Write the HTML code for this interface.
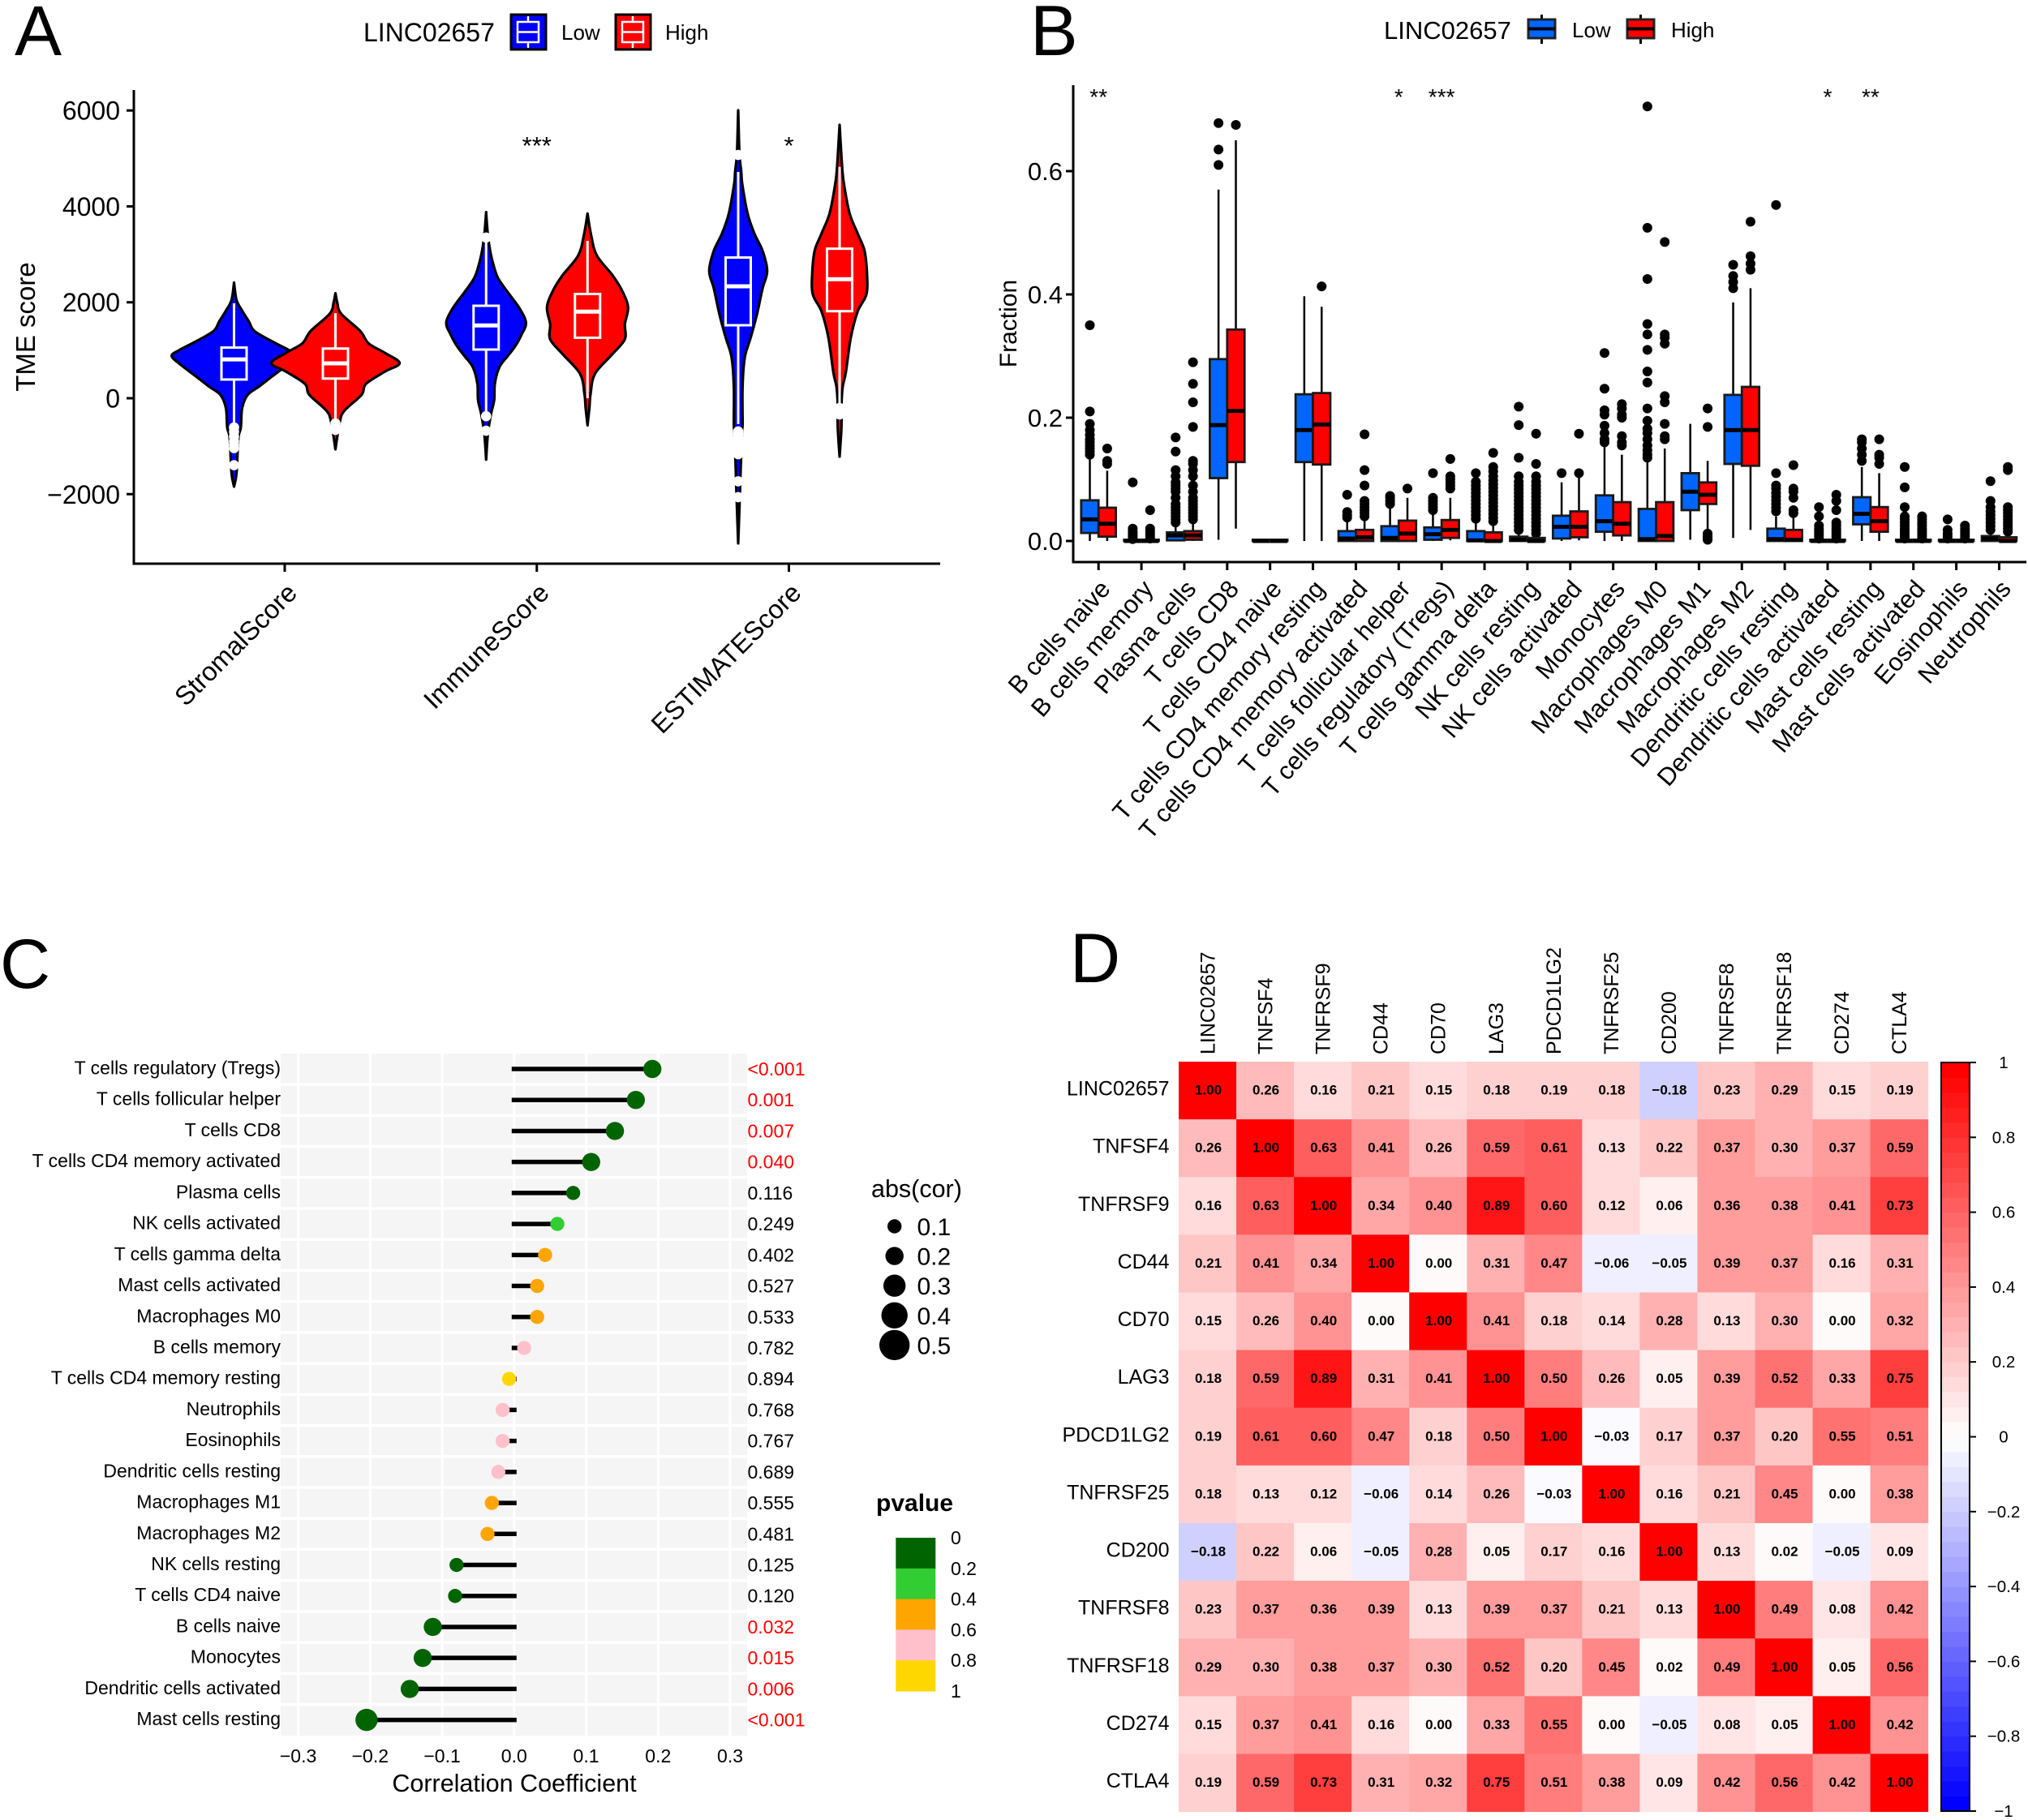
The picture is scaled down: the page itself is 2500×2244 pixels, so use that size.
<!DOCTYPE html>
<html lang="en">
<head>
<meta charset="utf-8">
<title>LINC02657 immune landscape figure</title>
<style>
html,body{margin:0;padding:0;background:#fff}
svg{display:block}
text{font-family:"Liberation Sans",Arial,sans-serif;fill:#000}
</style>
</head>
<body>
<svg id="fig" xmlns="http://www.w3.org/2000/svg" width="2500" height="2244" viewBox="0 0 2500 2244">
<rect width="2500" height="2244" fill="#fff"/>
<text x="18" y="68" font-size="87">A</text>
<text x="1270" y="68" font-size="88">B</text>
<text x="0" y="1218" font-size="86">C</text>
<text x="1319" y="1211" font-size="86">D</text>

<g>
<text x="448" y="51" font-size="32">LINC02657</text>
<rect x="630" y="18" width="43" height="43" fill="#0000ff" stroke="#000" stroke-width="3"/>
<rect x="638" y="27" width="26" height="25" fill="none" stroke="#fff" stroke-width="2.5"/>
<path d="M651 20V27M651 52V59M638 39.500H664" stroke="#fff" stroke-width="2.500" fill="none"/>
<text x="692" y="49" font-size="26">Low</text>
<rect x="759" y="18" width="43" height="43" fill="#ff0000" stroke="#000" stroke-width="3"/>
<rect x="767" y="27" width="26" height="25" fill="none" stroke="#fff" stroke-width="2.5"/>
<path d="M780 20V27M780 52V59M767 39.500H793" stroke="#fff" stroke-width="2.500" fill="none"/>
<text x="820" y="49" font-size="26">High</text>
</g>

<g>
<text x="1706" y="48" font-size="31">LINC02657</text>
<path d="M1900.500 18V54" stroke="#000" stroke-width="3"/>
<rect x="1884" y="24" width="33" height="23" fill="#0066ff" stroke="#222" stroke-width="3"/>
<path d="M1884 35.500H1917" stroke="#000" stroke-width="4"/>
<text x="1938" y="46" font-size="26">Low</text>
<path d="M2022.500 18V54" stroke="#000" stroke-width="3"/>
<rect x="2006" y="24" width="33" height="23" fill="#ff0000" stroke="#222" stroke-width="3"/>
<path d="M2006 35.500H2039" stroke="#000" stroke-width="4"/>
<text x="2060" y="46" font-size="26">High</text>
</g>

<g id="panelA"></g>
<g id="panelB"></g>
<g id="panelC"></g>
<g id="panelD"></g>
</svg>

<script>
/* ---------- Panel A data ---------- */
const aCategories = ['StromalScore','ImmuneScore','ESTIMATEScore'];
const aTickValues = [-2000,0,2000,4000,6000];
const aStars = ['','***','*'];
const stromalLowScores  = [2410,2047,1826,1596,1400,1172,1003,880,693,473,242,73,-206,-609,-830,-1560,-1843];
const stromalLowDensity = [0,.04,.13,.24,.33,.63,.88,1,.85,.63,.4,.22,.13,.11,.07,.04,0];
const stromalHighScores  = [2188,1990,1765,1398,1145,947,733,553,299,73,-265,-490,-800,-1065];
const stromalHighDensity = [0,.03,.09,.4,.53,.79,1.03,.79,.49,.42,.14,.07,.03,0];
const immuneLowScores  = [3880,3385,2975,2565,2385,2155,1845,1570,1330,1090,870,640,300,-35,-320,-720,-1280];
const immuneLowDensity = [0,.03,.08,.17,.25,.38,.55,.64,.57,.47,.34,.21,.14,.13,.08,.03,0];
const immuneHighScores  = [3850,3385,2975,2565,2255,1900,1540,1230,920,510,100,-200,-565];
const immuneHighDensity = [0,.06,.15,.4,.55,.65,.6,.6,.4,.12,.05,.03,0];
const estimateLowScores  = [6003,5100,4718,4465,3856,3433,3078,2653,2288,1742,1265,845,237,-524,-732,-1460,-1900,-3027];
const estimateLowDensity = [0,.02,.05,.065,.15,.26,.39,.465,.39,.3,.2,.105,.07,.07,.06,.04,.03,0];
const estimateHighScores  = [5700,4825,4465,3856,3433,3078,2588,2165,1810,1265,541,237,-128,-600,-1218];
const estimateHighDensity = [0,.04,.07,.16,.29,.4,.44,.43,.29,.18,.1,.05,.03,.03,0];
const aQ1 = [390,410,1015,1261,1522,1815];
const aMedian = [810,728,1518,1805,2334,2482];
const aQ3 = [1056,1036,1928,2174,2934,3118];
const aWhiskerHigh = [1979,1774,3280,3280,4718,4825];
const aWhiskerLow = [-510,-460,-310,0,-540,-110];
const stromalLowOutliers = [-609,-700,-800,-900,-970,-1040,-1396];
const stromalHighOutliers = [-525,-590,-660];
const immuneLowOutliers = [3350,-375,-677];
const immuneHighOutliers = [];
const estimateLowOutliers = [5073,-693,-750,-829,-913,-998,-1083,-1167,-1733,-2063];
const estimateHighOutliers = [-203,-270,-338];

/* ---------- Panel B data ---------- */
const bCategories = ['B cells naive','B cells memory','Plasma cells','T cells CD8','T cells CD4 naive','T cells CD4 memory resting','T cells CD4 memory activated','T cells follicular helper','T cells regulatory (Tregs)','T cells gamma delta','NK cells resting','NK cells activated','Monocytes','Macrophages M0','Macrophages M1','Macrophages M2','Dendritic cells resting','Dendritic cells activated','Mast cells resting','Mast cells activated','Eosinophils','Neutrophils'];
const bTickValues = [0,0.2,0.4,0.6];
const bStars = ['**','','','','','','','*','***','','','','','','','','','*','**','','',''];
const bLowQ1 = [.013,0,.001,.102,0,.128,0,0,.002,0,0,.004,.015,0,.05,.125,0,0,.027,0,0,0];
const bLowMedian = [.035,0,.009,.188,0,.18,.004,.005,.011,.001,.002,.023,.032,.003,.08,.18,.003,0,.044,0,0,.004];
const bLowQ3 = [.066,.002,.014,.295,.002,.238,.016,.024,.022,.016,.007,.041,.074,.052,.11,.237,.02,.002,.071,.002,.002,.008];
const bLowHigh = [.135,.002,.028,.57,.002,.397,.035,.055,.05,.035,.015,.095,.155,.13,.19,.387,.04,.002,.12,.002,.002,.015];
const bLowLow = [0,0,0,.002,0,0,0,0,0,0,0,0,0,0,.002,.005,0,0,0,0,0,0];
const bHighQ1 = [.007,0,.002,.128,0,.124,0,0,.005,0,0,.006,.009,0,.06,.122,0,0,.015,0,0,0];
const bHighMedian = [.028,0,.009,.211,0,.189,.006,.012,.018,0,0,.023,.028,.008,.075,.18,.002,0,.032,0,0,0];
const bHighQ3 = [.054,.002,.016,.343,.002,.24,.018,.033,.034,.014,.005,.048,.063,.063,.095,.25,.018,.002,.055,.002,.002,.006];
const bHighHigh = [.114,.002,.032,.65,.002,.38,.04,.07,.07,.03,.009,.11,.14,.15,.13,.41,.04,.002,.11,.002,.002,.013];
const bHighLow = [0,0,0,.02,0,0,0,0,.001,0,0,.001,0,0,.015,.018,0,0,0,0,0,0];
const bLowOutliers = [
 [.14,.145,.15,.155,.16,.165,.172,.18,.19,.21,.35],
 [.003,.006,.009,.012,.015,.02,.095],
 [.03,.035,.04,.045,.05,.055,.06,.07,.08,.085,.09,.095,.105,.115,.145,.168],
 [.61,.635,.678],[],[],
 [.038,.042,.047,.075],
 [.06,.065,.07,.073],
 [.05,.055,.06,.065,.07,.11],
 [.036,.042,.048,.054,.06,.066,.072,.078,.084,.09,.096,.11],
 [.018,.024,.03,.036,.042,.048,.054,.06,.066,.072,.078,.084,.09,.096,.105,.135,.188,.218],
 [.11],
 [.16,.165,.175,.187,.205,.212,.247,.305],
 [.135,.14,.147,.155,.165,.175,.182,.195,.215,.257,.275,.31,.335,.352,.425,.508,.705],
 [],
 [.41,.42,.43,.448],
 [.048,.054,.06,.066,.072,.078,.085,.09,.11,.545],
 [.004,.008,.012,.016,.02,.025,.04,.055],
 [.13,.14,.15,.16,.165],
 [.004,.008,.012,.016,.02,.025,.03,.035,.04,.055,.087,.12],
 [.004,.008,.012,.018,.035],
 [.018,.024,.03,.036,.042,.048,.055,.065,.097]
];
const bHighOutliers = [
 [.125,.13,.15],
 [.004,.008,.012,.016,.02,.05],
 [.035,.04,.045,.05,.055,.06,.065,.07,.08,.09,.105,.115,.125,.13,.185,.225,.255,.29],
 [.675],[],[.413],
 [.04,.045,.05,.055,.06,.065,.09,.115,.173],
 [.085],
 [.085,.09,.095,.1,.105,.133],
 [.032,.038,.044,.05,.056,.062,.068,.074,.08,.086,.092,.098,.105,.113,.12,.143],
 [.012,.018,.024,.03,.036,.042,.048,.054,.06,.066,.072,.078,.084,.09,.096,.105,.125,.174],
 [.11,.174],
 [.155,.16,.17,.2,.205,.215,.222],
 [.165,.17,.19,.225,.235,.32,.33,.335,.485],
 [.002,.005,.008,.012,.185,.215],
 [.44,.45,.462,.518],
 [.045,.05,.07,.08,.085,.123],
 [.004,.008,.012,.016,.02,.025,.03,.05,.065,.075],
 [.125,.135,.14,.165],
 [.004,.008,.012,.016,.02,.025,.03,.035,.04],
 [.004,.008,.012,.016,.02,.025],
 [.015,.02,.025,.03,.035,.04,.045,.05,.055,.115,.12]
];

/* ---------- Panel C data ---------- */
const cCells = ['T cells regulatory (Tregs)','T cells follicular helper','T cells CD8','T cells CD4 memory activated','Plasma cells','NK cells activated','T cells gamma delta','Mast cells activated','Macrophages M0','B cells memory','T cells CD4 memory resting','Neutrophils','Eosinophils','Dendritic cells resting','Macrophages M1','Macrophages M2','NK cells resting','T cells CD4 naive','B cells naive','Monocytes','Dendritic cells activated','Mast cells resting'];
const cCorrelation = [.192,.169,.14,.107,.082,.06,.043,.032,.032,.014,-.007,-.016,-.016,-.022,-.031,-.037,-.08,-.082,-.113,-.127,-.145,-.205];
const cPValues = ['<0.001','0.001','0.007','0.040','0.116','0.249','0.402','0.527','0.533','0.782','0.894','0.768','0.767','0.689','0.555','0.481','0.125','0.120','0.032','0.015','0.006','<0.001'];
const cTickValues = [-0.3,-0.2,-0.1,0,0.1,0.2,0.3];
const cSizeLegend = [0.1,0.2,0.3,0.4,0.5];
const cPBreaks = [0,0.2,0.4,0.6,0.8,1];
const cPColors = ['#006400','#32cd32','#ffa500','#ffc0cb','#ffd700'];

/* ---------- Panel D data ---------- */
const dGenes = ['LINC02657','TNFSF4','TNFRSF9','CD44','CD70','LAG3','PDCD1LG2','TNFRSF25','CD200','TNFRSF8','TNFRSF18','CD274','CTLA4'];
const dRowLinc = [1,.26,.16,.21,.15,.18,.19,.18,-.18,.23,.29,.15,.19];
const dRowTnfsf4 = [.26,1,.63,.41,.26,.59,.61,.13,.22,.37,.30,.37,.59];
const dRowTnfrsf9 = [.16,.63,1,.34,.40,.89,.60,.12,.06,.36,.38,.41,.73];
const dRowCd44 = [.21,.41,.34,1,0,.31,.47,-.06,-.05,.39,.37,.16,.31];
const dRowCd70 = [.15,.26,.40,0,1,.41,.18,.14,.28,.13,.30,0,.32];
const dRowLag3 = [.18,.59,.89,.31,.41,1,.50,.26,.05,.39,.52,.33,.75];
const dRowPdcd = [.19,.61,.60,.47,.18,.50,1,-.03,.17,.37,.20,.55,.51];
const dRowTnfrsf25 = [.18,.13,.12,-.06,.14,.26,-.03,1,.16,.21,.45,0,.38];
const dRowCd200 = [-.18,.22,.06,-.05,.28,.05,.17,.16,1,.13,.02,-.05,.09];
const dRowTnfrsf8 = [.23,.37,.36,.39,.13,.39,.37,.21,.13,1,.49,.08,.42];
const dRowTnfrsf18 = [.29,.30,.38,.37,.30,.52,.20,.45,.02,.49,1,.05,.56];
const dRowCd274 = [.15,.37,.41,.16,0,.33,.55,0,-.05,.08,.05,1,.42];
const dRowCtla4 = [.19,.59,.73,.31,.32,.75,.51,.38,.09,.42,.56,.42,1];
const dMatrix = [dRowLinc,dRowTnfsf4,dRowTnfrsf9,dRowCd44,dRowCd70,dRowLag3,dRowPdcd,dRowTnfrsf25,dRowCd200,dRowTnfrsf8,dRowTnfrsf18,dRowCd274,dRowCtla4];
const dLegendTicks = [-1,-0.8,-0.6,-0.4,-0.2,0,0.2,0.4,0.6,0.8,1];

/* ---------- helpers ---------- */
const NS = 'http://www.w3.org/2000/svg';
function make(parent, tag, props, txt){
  const n = document.createElementNS(NS, tag);
  for (const k in props) n.setAttribute(k, props[k]);
  if (txt !== undefined) n.textContent = txt;
  parent.appendChild(n);
  return n;
}
function minus(s){ return String(s).replace('-', '\u2212'); }
function smooth(pts){
  let d = 'M' + pts[0][0].toFixed(1) + ' ' + pts[0][1].toFixed(1);
  for (let i = 0; i < pts.length - 1; i++){
    const p0 = pts[Math.max(i-1,0)], p1 = pts[i], p2 = pts[i+1], p3 = pts[Math.min(i+2,pts.length-1)];
    const c1x = p1[0] + (p2[0]-p0[0])/6, c1y = p1[1] + (p2[1]-p0[1])/6;
    const c2x = p2[0] - (p3[0]-p1[0])/6, c2y = p2[1] - (p3[1]-p1[1])/6;
    d += 'C' + c1x.toFixed(1) + ' ' + c1y.toFixed(1) + ' ' + c2x.toFixed(1) + ' ' + c2y.toFixed(1) + ' ' + p2[0].toFixed(1) + ' ' + p2[1].toFixed(1);
  }
  return d;
}

/* ---------- Panel A ---------- */
(function(){
  const g = document.getElementById('panelA');
  const yA = v => 491 - v * 0.05913;
  const catX = i => 351 + i * 310.75;
  const wA = d => d * 76.8;
  const scoreSets = [stromalLowScores,stromalHighScores,immuneLowScores,immuneHighScores,estimateLowScores,estimateHighScores];
  const densSets = [stromalLowDensity,stromalHighDensity,immuneLowDensity,immuneHighDensity,estimateLowDensity,estimateHighDensity];
  const outSets = [stromalLowOutliers,stromalHighOutliers,immuneLowOutliers,immuneHighOutliers,estimateLowOutliers,estimateHighOutliers];
  const groupNames = ['low','high'];

  scoreSets.forEach((scores,k) => {
    const cat = Math.floor(k/2), grp = k%2;
    const cx = catX(cat) + (grp ? 62.5 : -62.5);
    const vg = make(g,'g',{});
    
    
    const right = scores.map((v,i) => [cx + wA(densSets[k][i]), yA(v)]);
    const left = scores.map((v,i) => [cx - wA(densSets[k][i]), yA(v)]).reverse();
    const d = smooth(right) + smooth(left).replace(/^M[^C]*/, 'L' + left[0][0].toFixed(1) + ' ' + left[0][1].toFixed(1)) + 'Z';
    const v = make(vg,'path',{d:d,fill:grp?'#ff0000':'#0000ff',stroke:'#000','stroke-width':3.200,'stroke-linejoin':'round'});
    
    
    const w = make(vg,'path',{d:'M'+cx+' '+yA(aWhiskerHigh[k])+'V'+yA(aQ3[k])+'M'+cx+' '+yA(aQ1[k])+'V'+yA(aWhiskerLow[k]),stroke:'#fff','stroke-width':3,fill:'none'});
    
    
    const b = make(vg,'rect',{x:cx-15.500,y:yA(aQ3[k]),width:31,height:yA(aQ1[k])-yA(aQ3[k]),fill:'none',stroke:'#fff','stroke-width':3});
    
    
    const m = make(vg,'line',{x1:cx-15.500,x2:cx+15.500,y1:yA(aMedian[k]),y2:yA(aMedian[k]),stroke:'#fff','stroke-width':5});
    
    
    outSets[k].forEach(val => {
      const o = make(vg,'circle',{cx:cx,cy:yA(val),r:6.300,fill:'#fff'});
      
      
    });
  });

  const ax = make(g,'path',{d:'M165 111V695H1159',fill:'none',stroke:'#000','stroke-width':3});
  
  
  aTickValues.forEach(v => {
    const t = make(g,'line',{x1:156,x2:165,y1:yA(v),y2:yA(v),stroke:'#000','stroke-width':3});
    
    
    const l = make(g,'text',{x:148,y:yA(v)+11.500,'font-size':32,'text-anchor':'end'},minus(v));
    
    
  });
  aCategories.forEach((c,i) => {
    const x = catX(i);
    const t = make(g,'line',{x1:x,x2:x,y1:695,y2:705,stroke:'#000','stroke-width':3});
    
    
    const l = make(g,'text',{x:x+17,y:733,'font-size':32.500,'text-anchor':'end',transform:'rotate(-45 '+(x+17)+' 733)'},c);
    
    
    if (aStars[i]){
      const s = make(g,'text',{x:x,y:190,'font-size':31,'text-anchor':'middle'},aStars[i]);
      
      
    }
  });
  const yt = make(g,'text',{x:43,y:403,'font-size':33,'text-anchor':'middle',transform:'rotate(-90 43 403)'},'TME score');
  
  
})();

/* ---------- Panel B ---------- */
(function(){
  const g = document.getElementById('panelB');
  const yB = v => 667 - v * 760;
  const catX = i => 1354.2 + i * 52.87;
  const colors = ['#0066ff','#ff0000'];
  const q1s = [bLowQ1,bHighQ1], meds = [bLowMedian,bHighMedian], q3s = [bLowQ3,bHighQ3], his = [bLowHigh,bHighHigh], los = [bLowLow,bHighLow], outs = [bLowOutliers,bHighOutliers];
  bCategories.forEach((c,i) => {
    [0,1].forEach(grp => {
      const cx = catX(i) + (grp ? 10.700 : -10.700);
      const bg = make(g,'g',{});
      
      
      outs[grp][i].forEach(val => {
        const o = make(bg,'circle',{cx:cx,cy:yB(val),r:6,fill:'#000'});
        
        
      });
      const w = make(bg,'line',{x1:cx,x2:cx,y1:yB(his[grp][i]),y2:yB(los[grp][i]),stroke:'#000','stroke-width':2.500});
      
      
      const b = make(bg,'rect',{x:cx-10.700,y:yB(q3s[grp][i]),width:21.400,height:Math.max(yB(q1s[grp][i])-yB(q3s[grp][i]),1),fill:colors[grp],stroke:'#1a1a1a','stroke-width':2.800});
      
      
      const m = make(bg,'line',{x1:cx-10.700,x2:cx+10.700,y1:yB(meds[grp][i]),y2:yB(meds[grp][i]),stroke:'#000','stroke-width':5});
      
      
    });
  });
  const ax = make(g,'path',{d:'M1323 105V693H2498',fill:'none',stroke:'#000','stroke-width':3});
  
  
  bTickValues.forEach(v => {
    const t = make(g,'line',{x1:1314,x2:1323,y1:yB(v),y2:yB(v),stroke:'#000','stroke-width':3});
    
    
    const l = make(g,'text',{x:1310,y:yB(v)+11,'font-size':31,'text-anchor':'end'},v.toFixed(1));
    
    
  });
  bCategories.forEach((c,i) => {
    const x = catX(i);
    const t = make(g,'line',{x1:x,x2:x,y1:693,y2:703,stroke:'#000','stroke-width':3});
    
    
    const l = make(g,'text',{x:x+16,y:727,'font-size':30.800,'text-anchor':'end',transform:'rotate(-49 '+(x+16)+' 727)'},c);
    
    
    if (bStars[i]){
      const s = make(g,'text',{x:x,y:129,'font-size':28,'text-anchor':'middle'},bStars[i]);
      
      
    }
  });
  const yt = make(g,'text',{x:1253,y:399,'font-size':30,'text-anchor':'middle',transform:'rotate(-90 1253 399)'},'Fraction');
  
  
})();

/* ---------- Panel C ---------- */
(function(){
  const g = document.getElementById('panelC');
  const xC = v => 633.8 + v * 887.5;
  const rowY = i => 1318 + i * 38.220;
  const radius = v => 6.200 + 25 * (Math.ceil(Math.abs(v) * 10 - 1e-9) / 10 || 0.1);
  const pColor = p => {
    const n = p.charAt(0) === '<' ? 0 : parseFloat(p);
    let k = 0;
    while (k < cPColors.length - 1 && n >= cPBreaks[k+1]) k++;
    return cPColors[k];
  };
  const bg = make(g,'rect',{x:346,y:1299,width:575,height:841,fill:'#f5f5f5'});
  
  
  cTickValues.forEach(v => {
    const t = make(g,'line',{x1:xC(v),x2:xC(v),y1:1299,y2:2140,stroke:'#fff','stroke-width':3});
    
    
    const l = make(g,'text',{x:xC(v),y:2173,'font-size':23,'text-anchor':'middle'},minus(v.toFixed(1)));
    
    
  });
  cCells.forEach((c,i) => {
    if (i > 0){
      const sep = make(g,'line',{x1:346,x2:921,y1:rowY(i)-19.100,y2:rowY(i)-19.100,stroke:'#fff','stroke-width':3.500});
      
      
    }
  });
  cCells.forEach((c,i) => {
    const y = rowY(i), v = cCorrelation[i], p = cPValues[i];
    const l = make(g,'text',{x:346,y:y+6.500,'font-size':23,'text-anchor':'end'},c);
    
    
    const s = make(g,'line',{x1:xC(0)+(v<0?3:-3),x2:xC(v),y1:y,y2:y,stroke:'#000','stroke-width':5.500});
    
    
    const d = make(g,'circle',{cx:xC(v),cy:y,r:radius(v),fill:pColor(p)});
    
    
    const isSig = p.charAt(0) === '<' || parseFloat(p) < 0.05;
    const pt = make(g,'text',{x:921.500,y:y+8,'font-size':23,style:'fill:'+(isSig?'#ff0000':'#000')},p);
    
    
  });
  const xt = make(g,'text',{x:634,y:2209,'font-size':30.500,'text-anchor':'middle'},'Correlation Coefficient');
  
  
  const t1 = make(g,'text',{x:1074,y:1476,'font-size':30.500},'abs(cor)');
  
  
  cSizeLegend.forEach((v,i) => {
    const y = 1512 + i * 36.600;
    const d = make(g,'circle',{cx:1102.7,cy:y,r:radius(v),fill:'#000'});
    
    
    const l = make(g,'text',{x:1130.500,y:y+11,'font-size':30},v.toFixed(1));
    
    
  });
  const t2 = make(g,'text',{x:1080,y:1863,'font-size':30,'font-weight':'bold'},'pvalue');
  
  
  const yLeg = p => 1896 + p * 189;
  cPColors.forEach((col,k) => {
    const r = make(g,'rect',{x:1104.3,y:yLeg(cPBreaks[k]),width:49,height:yLeg(cPBreaks[k+1])-yLeg(cPBreaks[k])+0.500,fill:col});
    
    
  });
  cPBreaks.forEach(b => {
    const l = make(g,'text',{x:1172,y:yLeg(b)+8,'font-size':23},String(b));
    
    
  });
})();

/* ---------- Panel D ---------- */
(function(){
  const g = document.getElementById('panelD');
  const cellW = 71.050, cellH = 71.120;
  const xD = j => 1453 + j * cellW;
  const yD = i => 1309 + i * cellH;
  const color = v => {
    const idx = Math.min(49, Math.max(0, Math.floor((v + 1) / 2 * 50)));
    const t = idx / 49;
    if (t >= 0.5){
      const c = Math.round(255 * (1 - (t - 0.5) * 2));
      return 'rgb(255,' + c + ',' + c + ')';
    }
    const c = Math.round(255 * t * 2);
    return 'rgb(' + c + ',' + c + ',255)';
  };
  dMatrix.forEach((row,i) => {
    row.forEach((v,j) => {
      const r = make(g,'rect',{x:xD(j),y:yD(i),width:cellW+0.500,height:cellH+0.500,fill:color(v)});
      
      
    });
  });
  dMatrix.forEach((row,i) => {
    row.forEach((v,j) => {
      const t = make(g,'text',{x:xD(j)+cellW/2+1,y:yD(i)+cellH/2+5,'font-size':17,'font-weight':'bold','text-anchor':'middle'},minus(v.toFixed(2)));
      
      
    });
  });
  dGenes.forEach((name,i) => {
    const l = make(g,'text',{x:1441.500,y:yD(i)+cellH/2+6,'font-size':25,'text-anchor':'end'},name);
    
    
    const cx = xD(i) + cellW/2 + 9;
    const c = make(g,'text',{x:cx,y:1300,'font-size':25,transform:'rotate(-90 '+cx+' 1300)'},name);
    
    
  });
  const yBar = v => 1310 + (1 - v) / 2 * 923;
  for (let k = 0; k < 50; k++){
    const low = -1 + k * 0.04;
    const r = make(g,'rect',{x:2393,y:yBar(low+0.04),width:35,height:yBar(low)-yBar(low+0.04)+0.500,fill:color(low+0.02)});
    
    
  }
  const o = make(g,'rect',{x:2393,y:1310,width:35,height:923,fill:'none',stroke:'#000','stroke-width':2});
  
  
  dLegendTicks.forEach(v => {
    const t = make(g,'line',{x1:2428,x2:2436,y1:yBar(v),y2:yBar(v),stroke:'#000','stroke-width':2});
    
    
    const l = make(g,'text',{x:2470,y:yBar(v)+7,'font-size':20.500,'text-anchor':'middle'},minus(v));
    
    
  });
})();
</script>
</body>
</html>
